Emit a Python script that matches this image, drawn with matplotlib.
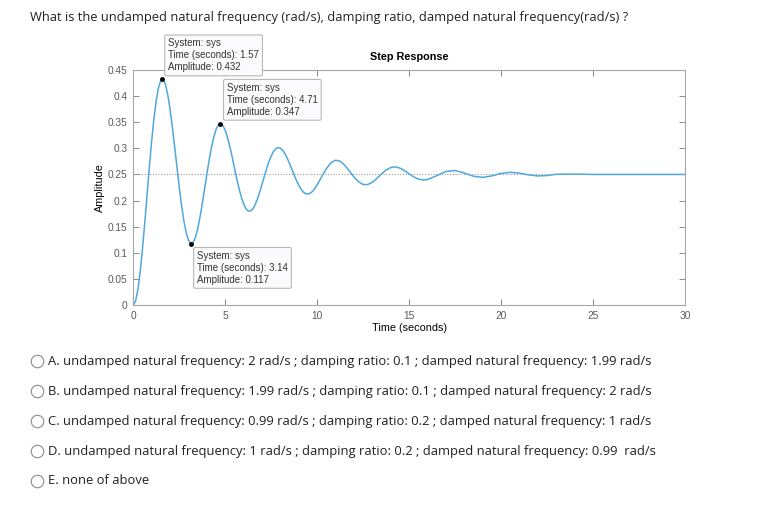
import matplotlib
matplotlib.use("Agg")
import matplotlib.pyplot as plt
from matplotlib.lines import Line2D

# step response
time_s = [0, 0.125, 0.25, 0.375, 0.5, 0.625, 0.75, 0.875, 1.0, 1.125, 1.25, 1.375, 1.5, 1.57,
          1.625, 1.75, 1.875, 2.0, 2.125, 2.25, 2.375, 2.5, 2.625, 2.75, 2.875, 3.0, 3.125,
          3.14, 3.25, 3.375, 3.5, 3.625, 3.75, 3.875, 4.0, 4.125, 4.25, 4.375, 4.5, 4.625,
          4.71, 4.75, 4.875, 5.0, 5.125, 5.25, 5.375, 5.5, 5.625, 5.75, 5.875, 6.0, 6.125,
          6.25, 6.375, 6.5, 6.625, 6.75, 6.875, 7.0, 7.125, 7.25, 7.375, 7.5, 7.625, 7.75,
          7.875, 8.0, 8.125, 8.25, 8.375, 8.5, 8.625, 8.75, 8.875, 9.0, 9.125, 9.25, 9.375,
          9.5, 9.625, 9.75, 9.875,
          10.0, 10.25, 10.5, 10.75, 11.0, 11.25, 11.5, 11.75, 12.0, 12.25, 12.5, 12.75,
          13.0, 13.25, 13.5, 13.75, 14.0, 14.25, 14.5, 14.75, 15.0, 15.25, 15.5, 15.75,
          16.0, 16.5, 17.0, 17.5, 18.0, 18.5, 19.0, 19.5, 20.0, 20.5, 21.0, 21.5, 22.0,
          22.5, 23.0, 24.0, 25.0, 30.0]
amplitude = [0, 0.0076, 0.0296, 0.0639, 0.1078, 0.1582, 0.2116, 0.2648, 0.3146, 0.3579,
             0.3926, 0.4171, 0.4301, 0.432, 0.4315, 0.4220, 0.4022, 0.3747, 0.3403, 0.3027,
             0.2635, 0.2254, 0.1906, 0.1612, 0.1384, 0.1239, 0.1173, 0.117, 0.1193, 0.1291,
             0.1457, 0.1679, 0.1940, 0.2222, 0.2507, 0.2777, 0.3018, 0.3215, 0.3362, 0.3446,
             0.347, 0.3469, 0.3433, 0.3342, 0.3205, 0.3032, 0.2837, 0.2626, 0.2420, 0.2230,
             0.2065, 0.1935, 0.1845, 0.1799, 0.1798, 0.1840, 0.1920, 0.2031, 0.2164, 0.2312,
             0.2465, 0.2611, 0.2744, 0.2855, 0.2941, 0.2994, 0.3015, 0.3004, 0.2964, 0.2895,
             0.2808, 0.2705, 0.2596, 0.2485, 0.2381, 0.2292, 0.2216, 0.2160, 0.2131, 0.2125,
             0.2141, 0.2178, 0.2234,
             0.2302, 0.2460, 0.2613, 0.2724, 0.2773, 0.2753, 0.2676, 0.2566, 0.2451, 0.2358,
             0.2307, 0.2306, 0.2350, 0.2425, 0.2510, 0.2585, 0.2633, 0.2645, 0.2622, 0.2573,
             0.2512, 0.2453, 0.2411, 0.2394, 0.2403, 0.2477, 0.2557, 0.2575, 0.2527, 0.2466,
             0.2444, 0.2473, 0.2519, 0.2541, 0.2525, 0.2491, 0.2471, 0.2479, 0.2503, 0.2508,
             0.2500, 0.2500]
steady_state = 0.25

# data tips
tip_t = [1.57, 4.71, 3.14]
tip_y = [0.432, 0.347, 0.117]

x_ticks = [0, 5, 10, 15, 20, 25, 30]
y_ticks = [0, 0.05, 0.1, 0.15, 0.2, 0.25, 0.3, 0.35, 0.4, 0.45]
y_labels = ["0", "0.05", "0.1", "0.15", "0.2", "0.25", "0.3", "0.35", "0.4", "0.45"]

question = "What is the undamped natural frequency (rad/s), damping ratio, damped natural frequency(rad/s) ?"
options = [
    "A. undamped natural frequency: 2 rad/s ; damping ratio: 0.1 ; damped natural frequency: 1.99 rad/s",
    "B. undamped natural frequency: 1.99 rad/s ; damping ratio: 0.1 ; damped natural frequency: 2 rad/s",
    "C. undamped natural frequency: 0.99 rad/s ; damping ratio: 0.2 ; damped natural frequency: 1 rad/s",
    "D. undamped natural frequency: 1 rad/s ; damping ratio: 0.2 ; damped natural frequency: 0.99  rad/s",
    "E. none of above",
]

W, H = 763, 527
fig = plt.figure(figsize=(W / 100, H / 100), dpi=100)
fig.patch.set_facecolor("white")

ax = fig.add_axes([133.3 / W, 1 - 305 / H, (685 - 133.3) / W, (305 - 70) / H])
ax.plot(time_s, amplitude, color="#4FA8DE", lw=1.1, zorder=3)
ax.axhline(steady_state, color="#9a9a9a", lw=0.8, ls=(0, (1, 1.5)), zorder=2)
ax.plot(tip_t, tip_y, "o", color="black", ms=2.5, zorder=5)

ax.set_xlim(0, 30)
ax.set_ylim(0, 0.45)
ax.set_xticks(x_ticks)
ax.set_yticks(y_ticks)
ax.set_yticklabels(y_labels)

axis_grey = "#a6a6a6"
for s in ax.spines.values():
    s.set_color(axis_grey)
    s.set_linewidth(0.8)
ax.tick_params(direction="in", length=4, width=0.7, color="#8a8a8a",
               labelsize=7.3, labelcolor="#5a5a5a", top=True, right=True, pad=4)
for lab in ax.get_xticklabels() + ax.get_yticklabels():
    lab.set_family("Liberation Sans")

ax.set_title("Step Response", fontsize=7.8, fontweight="bold", family="Liberation Sans", pad=7)
ax.set_xlabel("Time (seconds)", fontsize=7.8, family="Liberation Sans", labelpad=2)
ax.set_ylabel("Amplitude", fontsize=7.8, family="Liberation Sans", labelpad=2)

box = dict(boxstyle="round,pad=0.35,rounding_size=0.15", fc="#fbfbfe", ec="#b8b8b8", lw=0.8)
offsets = [(6, 7, "bottom"), (7, 7, "bottom"), (6, -7, "top")]
for t, y, (dx, dy, va) in zip(tip_t, tip_y, offsets):
    txt = "System: sys\nTime (seconds): %.2f\nAmplitude: %.3f" % (t, y)
    ax.annotate(txt, xy=(t, y), xytext=(dx, dy), textcoords="offset pixels",
                ha="left", va=va, fontsize=7.0, family="Liberation Sans", color="#333333",
                linespacing=1.25, bbox=box, annotation_clip=False, zorder=6)

fig.text(30 / W, 1 - 18 / H, question, fontsize=9.32, family="Open Sans",
         color="#222222", va="center", ha="left")

for i, opt in enumerate(options):
    yy = 1 - (361 + 30 * i) / H
    fig.add_artist(Line2D([37 / W], [yy], marker="o", ms=9, mfc="white",
                          mec="#8c8c8c", mew=0.8, transform=fig.transFigure))
    fig.text(48 / W, yy, opt, fontsize=9.35, family="Open Sans", color="#222222",
             va="center", ha="left")

fig.savefig("out.png", dpi=100)
